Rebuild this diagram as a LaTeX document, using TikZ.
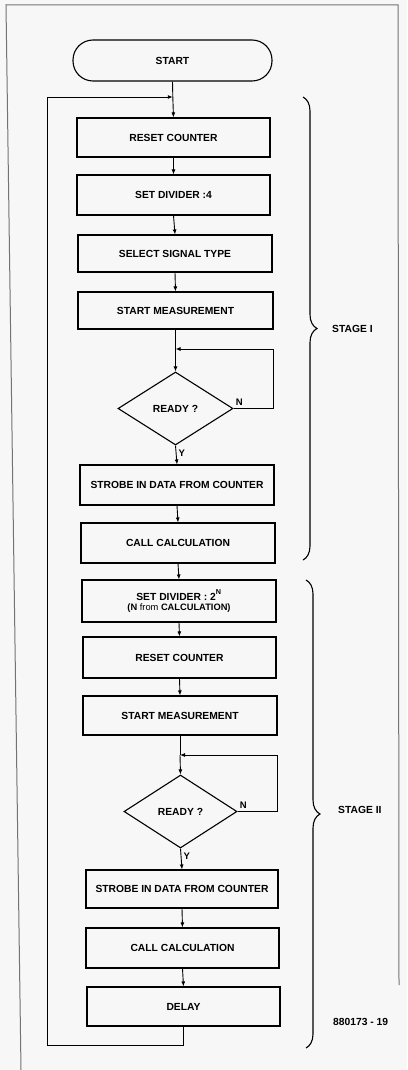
\documentclass[tikz,border=0pt]{standalone}
\usepackage{fontspec}
\setmainfont{Liberation Sans}
\usetikzlibrary{shapes.geometric,arrows.meta,decorations.pathreplacing}
\begin{document}
\begin{tikzpicture}[x=1pt,y=-1pt,
  font=\fontsize{10.3}{11.5}\selectfont\bfseries,
  box/.style={draw,line width=1.1pt,minimum width=#1,minimum height=39pt,inner sep=1pt,align=center},
  box/.default=194pt,
  term/.style={draw,line width=1.1pt,rounded corners=20pt,minimum width=199pt,minimum height=41pt},
  dec/.style={draw,diamond,line width=1.1pt,minimum width=115pt,minimum height=73pt,inner sep=0pt},
  arr/.style={line width=0.9pt,-{Latex[length=5pt,width=4pt]}},
  ln/.style={line width=0.9pt},
  brc/.style={line width=1.1pt,decorate,decoration={brace,amplitude=14pt}},
  lbl/.style={anchor=west,inner sep=0pt},
  yn/.style={anchor=west,inner sep=0pt,font=\fontsize{9.5}{10}\selectfont\bfseries},
  frame/.style={draw=black!55,line width=1pt}]
\useasboundingbox[fill=black!3] (0,0) rectangle (407,1070);
% page frame
\draw[frame] (21,1070) -- (6,5) -- (398,5) -- (399,985);
% nodes
\node[term] (start) at (172.5,60.5) {START};
\node[box=193pt] (r1) at (173.5,137.5) {RESET COUNTER};
\node[box=193pt,minimum height=40pt] (d1) at (173.5,195) {SET DIVIDER :4};
\node[box,minimum height=37pt] (s1) at (175,253.5) {SELECT SIGNAL TYPE};
\node[box=195pt,minimum height=37pt] (m1) at (175.5,310.5) {START MEASUREMENT};
\node[dec] (q1) at (175.5,408.5) {READY ?};
\node[box,minimum height=40pt] (sb1) at (177,485) {STROBE IN DATA FROM COUNTER};
\node[box,minimum height=40pt] (c1) at (178,543) {CALL CALCULATION};
\node[box,minimum height=42pt] (d2) at (179,601) {SET DIVIDER : 2\raisebox{0.5ex}{\textsuperscript{N}}\\[-1pt]{\fontsize{9.3}{10}\selectfont (N {\mdseries from} CALCULATION)}};
\node[box=193pt,minimum height=41pt] (r2) at (179.5,657.5) {RESET COUNTER};
\node[box,minimum height=39pt] (m2) at (180,715.5) {START MEASUREMENT};
\node[dec,minimum width=113pt] (q2) at (180.5,811.5) {READY ?};
\node[box=192pt,minimum height=38pt] (sb2) at (182,889) {STROBE IN DATA FROM COUNTER};
\node[box=193pt,minimum height=40pt] (c2) at (182.5,948) {CALL CALCULATION};
\node[box=193pt,minimum height=39pt] (dl) at (183.5,1006.5) {DELAY};
% junction coordinates
\coordinate (j1) at (172.8,97);
\coordinate (lb) at (47,1045);
\coordinate (j2) at (175.5,349);
\coordinate (n1) at (273,408.5);
\coordinate (j3) at (180,755);
\coordinate (n2) at (277,811.5);
% connectors
\draw[ln] (start.south) -- (j1);
\draw[arr] (j1) -- (r1.north);
\draw[arr] (r1.south) -- (d1.north);
\draw[arr] (d1.south) -- (s1.north);
\draw[arr] (s1.south) -- (m1.north);
\draw[ln] (m1.south) -- (j2);
\draw[arr] (j2) -- (q1.north);
\draw[arr] (q1.south) -- (sb1.north);
\draw[arr] (sb1.south) -- (c1.north);
\draw[arr] (c1.south) -- (d2.north);
\draw[arr] (d2.south) -- (r2.north);
\draw[arr] (r2.south) -- (m2.north);
\draw[ln] (m2.south) -- (j3);
\draw[arr] (j3) -- (q2.north);
\draw[arr] (q2.south) -- (sb2.north);
\draw[arr] (sb2.south) -- (c2.north);
\draw[arr] (c2.south) -- (dl.north);
% loops
\draw[arr] (q1.east) -- (n1) |- (j2);
\draw[arr] (q2.east) -- (n2) |- (j3);
\draw[arr] (dl.south) |- (lb) |- (j1);
% Y / N labels
\node[yn] (y1) at ([xshift=3pt,yshift=-8pt]q1.south) {Y};
\node[yn] (nl1) at ([xshift=2pt,yshift=6pt]q1.east) {N};
\node[yn] (y2) at ([xshift=3pt,yshift=-8pt]q2.south) {Y};
\node[yn] (nl2) at ([xshift=2pt,yshift=6pt]q2.east) {N};
% braces
\coordinate (b1t) at (303,97);
\coordinate (b1b) at (303,560);
\coordinate (b2t) at (306,580);
\coordinate (b2b) at (306,1048);
\draw[brc] (b1t) -- (b1b);
\draw[brc] (b2t) -- (b2b);
\node[lbl] (st1) at (332,329) {STAGE I};
\node[lbl] (st2) at (338,810) {STAGE II};
\node[lbl] (fig) at (333,1022) {880173 - 19};
\end{tikzpicture}
\end{document}
